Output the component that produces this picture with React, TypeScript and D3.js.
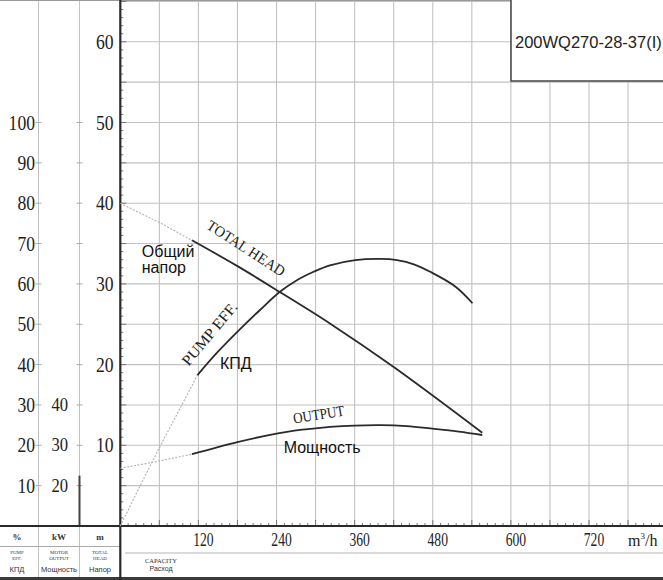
import { useEffect, useRef } from "react";
import * as d3 from "d3";

// curve readings (capacity m3/h -> value)
const headQ = [0, 30, 60, 110, 180, 245, 322, 420, 556];
const headM = [40, 38.8, 37.6, 35.4, 32.2, 29.0, 25.1, 19.7, 11.56];

const effQ = [0, 30, 61, 90, 118.5, 150, 184, 215, 245.7, 270, 297, 322, 361, 399, 425, 452, 476, 515, 541];
const effPct = [0, 9.8, 19.7, 28.6, 37.4, 43.2, 48.8, 53.6, 58.1, 60.8, 63.0, 64.6, 65.9, 66.2, 65.9, 64.8, 63.0, 59.3, 55.2];

const powQ = [0, 50, 110, 180, 240, 270, 300, 322, 360, 400, 440, 476, 520, 556];
const powKW = [24.3, 25.8, 27.8, 30.8, 32.9, 33.7, 34.2, 34.55, 34.9, 35.0, 34.75, 34.2, 33.4, 32.55];

// where the measured (solid) part of each curve starts
const solidFromHead = 110;
const solidFromEff = 118.5;
const solidFromPow = 110;

const flowTicks = [120, 240, 360, 480, 600, 720];
const headTicks = [10, 20, 30, 40, 50, 60];
const effTicks = [10, 20, 30, 40, 50, 60, 70, 80, 90, 100];
const kwTicks = [20, 30, 40];

const modelName = "200WQ270-28-37(I)";

const Chart = () => {
  const ref = useRef<HTMLDivElement>(null);

  useEffect(() => {
    if (!ref.current) return;

    const width = 663;
    const height = 580;
    const axisX = 120.3;
    const axisY = 526;
    const ink = "#2a2a2a";
    const grid = "#c2c2c2";
    const serif = "'Liberation Serif', 'DejaVu Serif', serif";
    const sans = "'Liberation Sans', Arial, sans-serif";

    d3.select(ref.current).selectAll("*").remove();

    const x = d3.scaleLinear().domain([0, 720]).range([axisX, 589]);
    const yH = d3.scaleLinear().domain([0, 60]).range([axisY, axisY - 60 * 8.07]);
    const yE = d3.scaleLinear().domain([0, 100]).range([axisY, yH(50)]);
    const yP = d3.scaleLinear().domain([10, 40]).range([axisY, yH(15)]);

    const svg = d3
      .select(ref.current)
      .append("svg")
      .attr("width", width)
      .attr("height", height)
      .style("position", "absolute")
      .style("left", "0px")
      .style("top", "0px")
      .style("background", "#fff");

    // grid
    const gGrid = svg.append("g").attr("stroke", grid).attr("stroke-width", 1.1);
    gGrid
      .selectAll("line.v")
      .data(d3.range(60, 840, 60))
      .join("line")
      .attr("class", "v")
      .attr("x1", (d) => x(d))
      .attr("x2", (d) => x(d))
      .attr("y1", 0)
      .attr("y2", axisY);
    gGrid
      .selectAll("line.h")
      .data(d3.range(5, 70, 5))
      .join("line")
      .attr("class", "h")
      .attr("x1", axisX)
      .attr("x2", width)
      .attr("y1", (d) => yH(d))
      .attr("y2", (d) => yH(d));

    // left scale columns
    const colA = 38.5;
    const colB = 79.5;
    [colA, colB].forEach((cx) => {
      svg
        .append("line")
        .attr("x1", cx)
        .attr("x2", cx)
        .attr("y1", 0)
        .attr("y2", height)
        .attr("stroke", "#c2c2c2");
      svg
        .append("g")
        .selectAll("line")
        .data(effTicks)
        .join("line")
        .attr("x1", cx - 3)
        .attr("x2", cx + 3)
        .attr("y1", (d) => yE(d))
        .attr("y2", (d) => yE(d))
        .attr("stroke", "#aaa");
    });
    svg
      .append("line")
      .attr("x1", colB)
      .attr("x2", colB)
      .attr("y1", yP(20) - 10)
      .attr("y2", axisY)
      .attr("stroke", "#444")
      .attr("stroke-width", 2);

    // frame lines
    svg.append("line").attr("x1", 0).attr("x2", width).attr("y1", 0.5).attr("y2", 0.5).attr("stroke", "#999");
    svg.append("line").attr("x1", 0).attr("x2", axisX).attr("y1", 546.5).attr("y2", 546.5).attr("stroke", "#aaa");
    svg.append("line").attr("x1", 125).attr("x2", width).attr("y1", 553).attr("y2", 553).attr("stroke", "#b5b5b5");
    svg.append("line").attr("x1", 0).attr("x2", width).attr("y1", 578.5).attr("y2", 578.5).attr("stroke", "#3a3a3a").attr("stroke-width", 3);

    // axis ticks
    svg
      .append("g")
      .selectAll("line")
      .data(d3.range(0, 66, 1))
      .join("line")
      .attr("x1", axisX)
      .attr("x2", (d) => axisX + (d % 5 === 0 ? 6 : 3))
      .attr("y1", (d) => yH(d))
      .attr("y2", (d) => yH(d))
      .attr("stroke", "#777");
    svg
      .append("g")
      .selectAll("line")
      .data(d3.range(12, 840, 12))
      .join("line")
      .attr("x1", (d) => x(d))
      .attr("x2", (d) => x(d))
      .attr("y1", axisY)
      .attr("y2", (d) => axisY - (d % 60 === 0 ? 6 : 3))
      .attr("stroke", "#777");

    svg.append("line").attr("x1", axisX).attr("x2", axisX).attr("y1", 0).attr("y2", height).attr("stroke", ink).attr("stroke-width", 2.2);
    svg.append("line").attr("x1", 0).attr("x2", width).attr("y1", axisY).attr("y2", axisY).attr("stroke", ink).attr("stroke-width", 2);

    // tick labels
    const num = (g: d3.Selection<SVGGElement, unknown, null, undefined>) =>
      g.attr("font-family", serif).attr("fill", "#222");

    svg
      .append("g")
      .call(num)
      .attr("font-size", 21)
      .attr("text-anchor", "end")
      .selectAll("text")
      .data(effTicks)
      .join("text")
      .attr("x", 35)
      .attr("y", (d) => yE(d) + 7)
      .attr("textLength", (d) => String(d).length * 8.8)
      .attr("lengthAdjust", "spacingAndGlyphs")
      .text((d) => d);

    svg
      .append("g")
      .call(num)
      .attr("font-size", 19)
      .attr("text-anchor", "end")
      .selectAll("text")
      .data(kwTicks)
      .join("text")
      .attr("x", 68)
      .attr("y", (d) => yP(d) + 6)
      .attr("textLength", (d) => String(d).length * 8.3)
      .attr("lengthAdjust", "spacingAndGlyphs")
      .text((d) => d);

    svg
      .append("g")
      .call(num)
      .attr("font-size", 21)
      .attr("text-anchor", "end")
      .selectAll("text")
      .data(headTicks)
      .join("text")
      .attr("x", 113.5)
      .attr("y", (d) => yH(d) + 7)
      .attr("textLength", (d) => String(d).length * 8.8)
      .attr("lengthAdjust", "spacingAndGlyphs")
      .text((d) => d);

    svg
      .append("g")
      .call(num)
      .attr("font-size", 18)
      .attr("text-anchor", "middle")
      .selectAll("text")
      .data(flowTicks)
      .join("text")
      .attr("x", (d) => x(d) + 5)
      .attr("y", 546)
      .attr("textLength", (d) => String(d).length * 6.8)
      .attr("lengthAdjust", "spacingAndGlyphs")
      .text((d) => d);

    const unit = svg.append("text").attr("x", 628).attr("y", 546).attr("font-family", serif).attr("font-size", 16).attr("fill", "#222");
    unit.append("tspan").text("m");
    unit.append("tspan").attr("font-size", 9).attr("dy", -7).text("3");
    unit.append("tspan").attr("dy", 7).text("/h");

    // table header
    const hdr = svg.append("g").attr("fill", "#333").attr("text-anchor", "middle");
    const cols = [
      { cx: 17, unit: "%", en: ["PUMP", "EFF."], ru: "КПД" },
      { cx: 59, unit: "kW", en: ["MOTOR", "OUTPUT"], ru: "Мощность" },
      { cx: 100, unit: "m", en: ["TOTAL", "HEAD"], ru: "Напор" },
    ];
    cols.forEach((c) => {
      hdr.append("text").attr("x", c.cx).attr("y", 540).attr("font-family", serif).attr("font-size", 9).attr("font-weight", "bold").text(c.unit);
      c.en.forEach((t, i) =>
        hdr.append("text").attr("x", c.cx).attr("y", 554 + i * 6).attr("font-family", serif).attr("font-size", 5).text(t)
      );
      hdr.append("text").attr("x", c.cx).attr("y", 572).attr("font-family", sans).attr("font-size", 7.5).text(c.ru);
    });
    hdr.append("text").attr("x", 161).attr("y", 563).attr("font-family", serif).attr("font-size", 6.5).text("CAPACITY");
    hdr.append("text").attr("x", 161).attr("y", 571).attr("font-family", sans).attr("font-size", 7).text("Расход");

    // curves
    const drawCurve = (
      qs: number[],
      vs: number[],
      y: d3.ScaleLinear<number, number>,
      from: number
    ) => {
      const pts: [number, number][] = qs.map((q, i) => [q, vs[i]]);
      const line = d3
        .line<[number, number]>()
        .x((d) => x(d[0]))
        .y((d) => y(d[1]))
        .curve(d3.curveCatmullRom.alpha(0.5));
      svg
        .append("path")
        .attr("d", line(pts.filter((d) => d[0] <= from)))
        .attr("fill", "none")
        .attr("stroke", "#b0b0b0")
        .attr("stroke-width", 1.1)
        .attr("stroke-dasharray", "2,1.5");
      svg
        .append("path")
        .attr("d", line(pts.filter((d) => d[0] >= from)))
        .attr("fill", "none")
        .attr("stroke", ink)
        .attr("stroke-width", 1.8);
    };
    drawCurve(headQ, headM, yH, solidFromHead);
    drawCurve(effQ, effPct, yE, solidFromEff);
    drawCurve(powQ, powKW, yP, solidFromPow);

    // curve labels
    const tilted = (t: string, q: number, h: number, angle: number, size: number, per: number) =>
      svg
        .append("text")
        .attr("transform", `translate(${x(q)},${yH(h)}) rotate(${angle})`)
        .attr("text-anchor", "middle")
        .attr("font-family", serif)
        .attr("font-size", size)
        .attr("fill", "#222")
        .attr("textLength", t.length * per)
        .attr("lengthAdjust", "spacingAndGlyphs")
        .text(t);
    tilted("TOTAL HEAD", 189, 33.9, 33, 15, 9);
    tilted("PUMP EFF.", 143, 23.4, -50, 15, 8.6);
    tilted("OUTPUT", 306, 13.2, -9, 15, 8.6);

    const ru = svg.append("g").attr("font-family", sans).attr("font-size", 16).attr("fill", "#111");
    ru.append("text").attr("x", x(33)).attr("y", yH(33.3)).text("Общий");
    ru.append("text").attr("x", x(33)).attr("y", yH(31.3)).text("напор");
    ru.append("text").attr("x", x(153)).attr("y", yH(19.5)).text("КПД");
    ru.append("text").attr("x", x(251)).attr("y", yH(9)).text("Мощность");

    // model box
    svg
      .append("rect")
      .attr("x", 511)
      .attr("y", -2)
      .attr("width", 160)
      .attr("height", 83)
      .attr("fill", "#fff")
      .attr("stroke", "#444")
      .attr("stroke-width", 1.5);
    svg
      .append("text")
      .attr("x", 515)
      .attr("y", 48)
      .attr("font-family", sans)
      .attr("font-size", 16.5)
      .attr("fill", "#222")
      .text(modelName);
  }, []);

  return <div ref={ref}></div>;
};

export default function App() {
  return <Chart />;
}
